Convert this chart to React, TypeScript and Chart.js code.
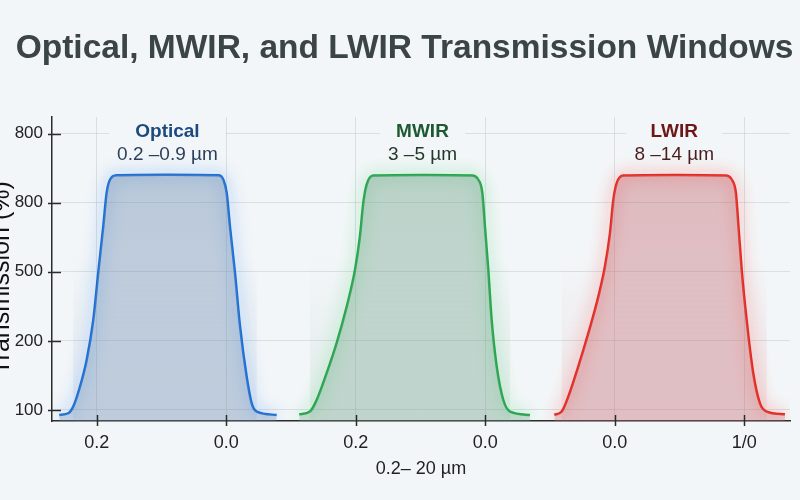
import React, { useEffect, useRef } from "react";
import { Chart, registerables } from "chart.js";

Chart.register(...registerables);

// ---------- text ----------
const TITLE = "Optical, MWIR, and LWIR Transmission Windows";
const X_TITLE = "0.2– 20 µm";
const Y_TITLE = "Transmission (%)";

// ---------- ticks ----------
const xTickValues = [0, 1, 2, 3, 4, 5];
const xTickLabels = ["0.2", "0.0", "0.2", "0.0", "0.0", "1/0"];
const yTickValues = [0, 25, 50, 75, 100];
const yTickLabels = ["100", "200", "500", "800", "800"];

// ---------- windows ----------
const windowNames = ["Optical", "MWIR", "LWIR"];
const windowRanges = ["0.2 –0.9 µm", "3 –5 µm", "8 –14 µm"];

// ---------- series ----------
const opticalX = [-0.289, -0.219, -0.181, -0.129, -0.077, -0.026, 0.012, 0.051, 0.077, 0.103, 0.154, 0.541, 0.939, 0.978, 1.004, 1.029, 1.068, 1.107, 1.158, 1.197, 1.236, 1.39];
const opticalY = [-1.8, -1.2, 1.2, 8.4, 18.1, 32.6, 49.6, 66.4, 78.5, 83.3, 84.9, 85.1, 84.9, 83.3, 78.5, 66.4, 49.6, 30.2, 12.1, 2.4, -0.6, -1.8];

const mwirX = [1.564, 1.647, 1.699, 1.776, 1.853, 1.931, 1.995, 2.033, 2.059, 2.085, 2.136, 2.522, 2.896, 2.947, 2.978, 2.998, 3.024, 3.05, 3.089, 3.14, 3.192, 3.346];
const mwirY = [-1.6, -0.6, 3.6, 13.3, 24.2, 37.4, 50.7, 62.8, 74.9, 81.5, 84.8, 85.0, 84.8, 83.3, 78.5, 66.4, 50.7, 32.6, 15.7, 3.6, -0.6, -1.8];

const lwirX = [3.534, 3.591, 3.642, 3.719, 3.797, 3.874, 3.925, 3.964, 3.99, 4.016, 4.067, 4.467, 4.853, 4.905, 4.936, 4.956, 4.981, 5.019, 5.07, 5.122, 5.174, 5.315];
const lwirY = [-1.8, -0.6, 4.8, 15.7, 27.8, 41.0, 51.9, 64.0, 76.1, 82.1, 84.8, 85.0, 84.8, 83.3, 78.5, 66.4, 50.7, 32.6, 13.3, 2.4, -0.6, -1.6];

// ---------- styles ----------
const BG = "#f3f6f8";
const FONT = "'Liberation Sans', Arial, Helvetica, sans-serif";
const STYLES = [
  { line: "#1a6ed8", glow: "rgba(40,130,245,0.9)", fill: [106, 137, 174], name: "#1c4a7e", range: "#2b3f5c" },
  { line: "#22a84a", glow: "rgba(40,205,90,0.85)", fill: [109, 160, 134], name: "#1d5a32", range: "#24382c" },
  { line: "#e8281e", glow: "rgba(255,50,40,0.9)", fill: [194, 103, 111], name: "#6f1616", range: "#4a1e1e" },
];

const rgba = (c: number[], a: number) => `rgba(${c[0]},${c[1]},${c[2]},${a})`;

export default function App() {
  const ref = useRef<HTMLCanvasElement>(null);

  useEffect(() => {
    document.body.style.margin = "0";
    document.body.style.background = BG;
    const canvas = ref.current;
    if (!canvas) return;

    const series = [
      { x: opticalX, y: opticalY },
      { x: mwirX, y: mwirY },
      { x: lwirX, y: lwirY },
    ];

    const datasets: any[] = [];
    series.forEach((s, i) => {
      const st = STYLES[i];
      const data = s.x.map((x, j) => ({ x, y: s.y[j] }));
      datasets.push({
        label: windowNames[i] + " fill",
        data,
        fill: "start",
        borderWidth: 0,
        borderColor: "rgba(0,0,0,0)",
        pointRadius: 0,
        cubicInterpolationMode: "monotone",
        backgroundColor: (c: any) => {
          const area = c.chart.chartArea;
          if (!area) return rgba(st.fill, 0.35);
          const g = c.chart.ctx.createLinearGradient(0, area.top, 0, area.bottom);
          g.addColorStop(0, rgba(st.fill, 0.45));
          g.addColorStop(1, rgba(st.fill, 0.3));
          return g;
        },
      });
      datasets.push({
        label: windowNames[i],
        data,
        fill: false,
        borderColor: st.line,
        borderWidth: 2.5,
        pointRadius: 0,
        cubicInterpolationMode: "monotone",
        glow: st.glow,
      });
    });

    const decor = {
      id: "decor",
      beforeDatasetsDraw(chart: any) {
        const { ctx, chartArea: a, scales } = chart;
        series.forEach((s, i) => {
          let first = -1;
          let last = -1;
          s.y.forEach((v, j) => {
            if (v > -1) {
              if (first < 0) first = j;
              last = j;
            }
          });
          const x0 = scales.x.getPixelForValue(s.x[first]);
          const x1 = scales.x.getPixelForValue(s.x[last]);
          const g = ctx.createLinearGradient(0, a.top, 0, a.bottom);
          g.addColorStop(0, rgba(STYLES[i].fill, 0));
          g.addColorStop(0.45, rgba(STYLES[i].fill, 0));
          g.addColorStop(1, rgba(STYLES[i].fill, 0.12));
          ctx.save();
          ctx.fillStyle = g;
          ctx.fillRect(x0, a.top, x1 - x0, a.bottom - a.top);
          ctx.restore();
        });
      },
      beforeDatasetDraw(chart: any, args: any) {
        const ds = chart.data.datasets[args.index];
        if (ds.glow) {
          chart.ctx.save();
          chart.ctx.shadowColor = ds.glow;
          chart.ctx.shadowBlur = 16;
        }
      },
      afterDatasetDraw(chart: any, args: any) {
        const ds = chart.data.datasets[args.index];
        if (ds.glow) chart.ctx.restore();
      },
      afterDraw(chart: any) {
        const { ctx, chartArea: a, scales } = chart;
        ctx.save();
        // main title
        ctx.fillStyle = "#3b4446";
        ctx.font = `bold 33.5px ${FONT}`;
        ctx.textAlign = "center";
        ctx.textBaseline = "alphabetic";
        ctx.fillText(TITLE, chart.width / 2 + 4.5, 58);
        // y-axis title (partly cut by left edge)
        ctx.save();
        ctx.translate(9, (a.top + a.bottom) / 2 + 9);
        ctx.rotate(-Math.PI / 2);
        ctx.fillStyle = "#111";
        ctx.font = `25px ${FONT}`;
        ctx.fillText(Y_TITLE, 0, 0);
        ctx.restore();
        // crossing tick marks
        ctx.strokeStyle = "#2b2b2b";
        ctx.lineWidth = 1.5;
        xTickValues.forEach((v) => {
          const px = Math.round(scales.x.getPixelForValue(v)) + 0.5;
          ctx.beginPath();
          ctx.moveTo(px, a.bottom - 6);
          ctx.lineTo(px, a.bottom + 5);
          ctx.stroke();
        });
        yTickValues.forEach((v) => {
          const py = Math.round(scales.y.getPixelForValue(v)) + 0.5;
          ctx.beginPath();
          ctx.moveTo(a.left - 4, py);
          ctx.lineTo(a.left + 9, py);
          ctx.stroke();
        });
        // window labels
        series.forEach((s, i) => {
          const top = s.y.reduce((m, v) => Math.max(m, v), -Infinity);
          let first = -1;
          let last = -1;
          s.y.forEach((v, j) => {
            if (v >= top - 1) {
              if (first < 0) first = j;
              last = j;
            }
          });
          const cx = scales.x.getPixelForValue((s.x[first] + s.x[last]) / 2);
          ctx.font = `bold 19px ${FONT}`;
          const w1 = ctx.measureText(windowNames[i]).width;
          ctx.font = `19px ${FONT}`;
          const w2 = ctx.measureText(windowRanges[i]).width;
          const w = Math.max(w1, w2) + 16;
          ctx.fillStyle = BG;
          ctx.fillRect(cx - w / 2, a.top + 4, w, 24);
          ctx.textAlign = "center";
          ctx.textBaseline = "alphabetic";
          ctx.font = `bold 19px ${FONT}`;
          ctx.fillStyle = STYLES[i].name;
          ctx.fillText(windowNames[i], cx, a.top + 20);
          ctx.font = `19px ${FONT}`;
          ctx.fillStyle = STYLES[i].range;
          ctx.fillText(windowRanges[i], cx, a.top + 43);
        });
        ctx.restore();
      },
    };

    const chart = new Chart(canvas, {
      type: "line",
      data: { datasets },
      options: {
        animation: false,
        responsive: true,
        maintainAspectRatio: false,
        layout: { padding: { left: 0, right: 10, top: 117, bottom: 0 } },
        font: { family: FONT },
        plugins: {
          legend: { display: false },
          tooltip: { enabled: false },
          title: { display: false },
        },
        scales: {
          x: {
            type: "linear",
            min: -0.345,
            max: 5.354,
            afterBuildTicks: (scale: any) => {
              scale.ticks = xTickValues.map((v) => ({ value: v }));
            },
            afterFit: (scale: any) => {
              scale.height = 79;
            },
            ticks: {
              color: "#222",
              font: { family: FONT, size: 18 },
              padding: 3,
              maxRotation: 0,
              autoSkip: false,
              callback: (_v: any, i: number) => xTickLabels[i],
            },
            grid: { color: "rgba(170,180,186,0.35)", tickLength: 8, tickColor: "rgba(0,0,0,0)" },
            border: { color: "#2b2b2b", width: 1.5 },
            title: {
              display: true,
              text: X_TITLE,
              color: "#222",
              font: { family: FONT, size: 18 },
              padding: { top: 0, bottom: 20 },
            },
          },
          y: {
            type: "linear",
            min: -4,
            max: 106,
            afterBuildTicks: (scale: any) => {
              scale.ticks = yTickValues.map((v) => ({ value: v }));
            },
            afterFit: (scale: any) => {
              scale.width = 52;
            },
            ticks: {
              color: "#222",
              font: { family: FONT, size: 17 },
              padding: 3,
              callback: (_v: any, i: number) => yTickLabels[i],
            },
            grid: { color: "rgba(170,180,186,0.35)", tickLength: 6, tickColor: "rgba(0,0,0,0)" },
            border: { color: "#2b2b2b", width: 1.5 },
          },
        },
      } as any,
      plugins: [decor as any],
    });

    return () => chart.destroy();
  }, []);

  return (
    <div style={{ position: "fixed", left: 0, top: 0, width: 800, height: 500, overflow: "hidden", background: BG }}>
      <canvas ref={ref} />
    </div>
  );
}
